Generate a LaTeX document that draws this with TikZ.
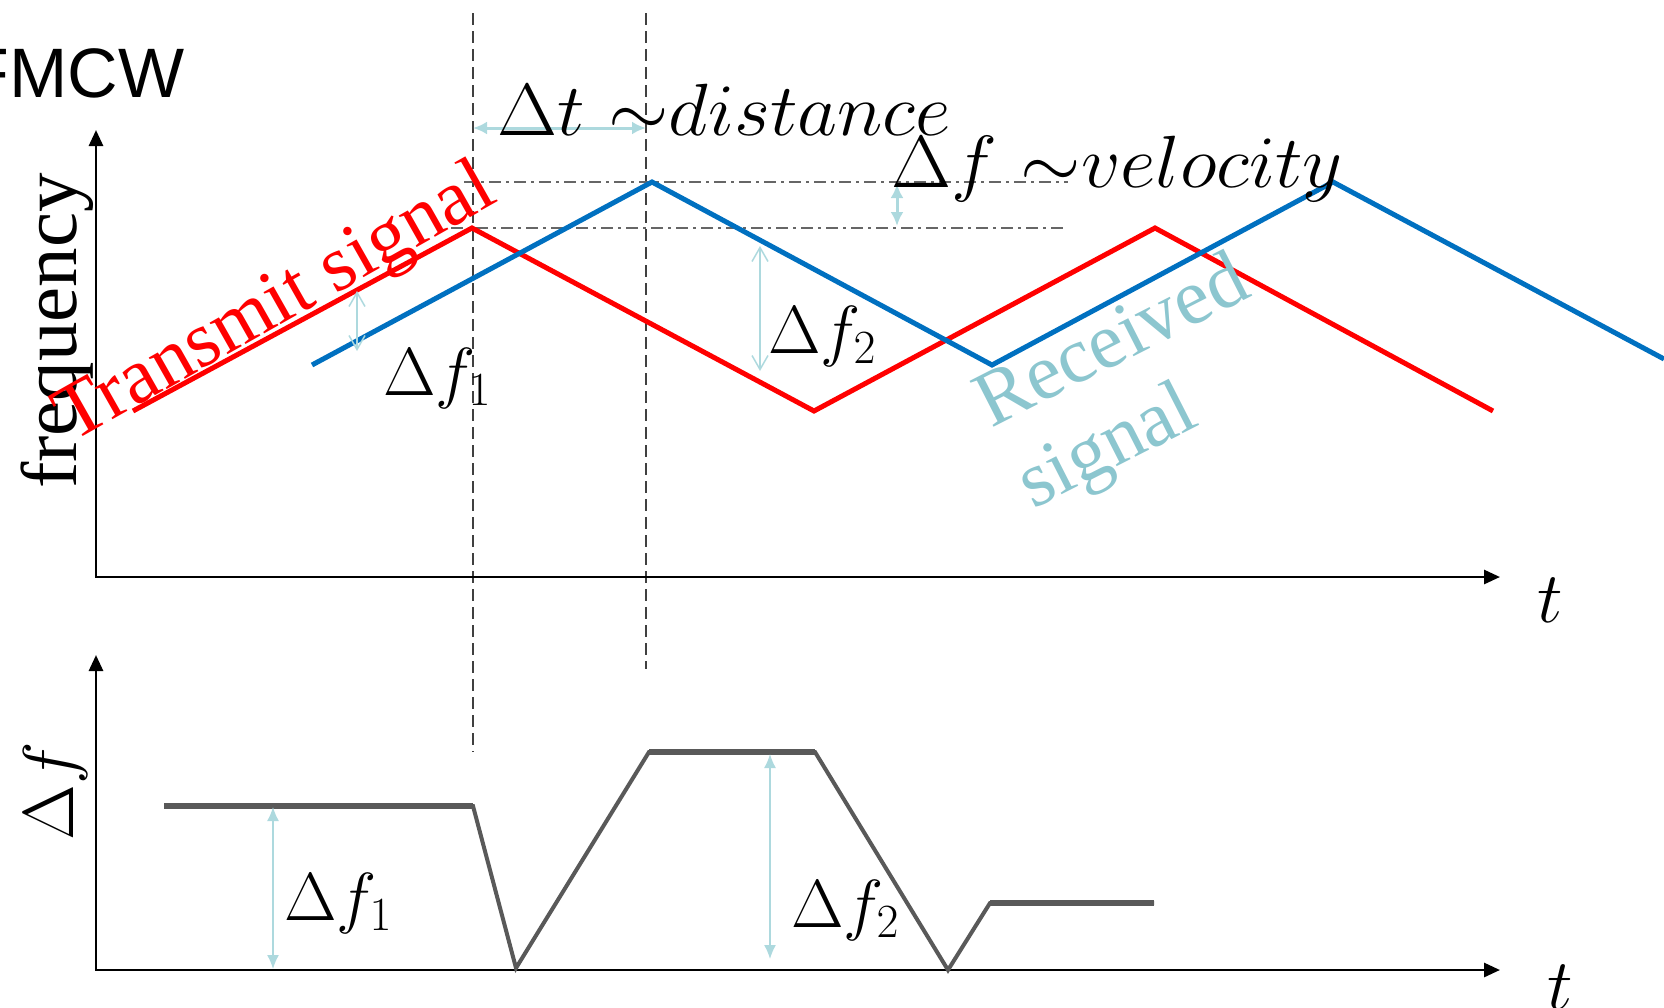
\RequirePackage{fix-cm}
\documentclass[tikz,border=0pt]{standalone}
\usepackage{fontspec}
\newfontfamily\seriffont{Liberation Serif}
\newfontfamily\arialfont{Liberation Sans}
\usetikzlibrary{arrows.meta}
\definecolor{tred}{HTML}{FF0000}
\definecolor{rblue}{HTML}{0070C0}
\definecolor{rteal}{HTML}{8CC6CF}
\definecolor{lblue}{HTML}{ADD9DE}
\definecolor{dgray}{HTML}{595959}
\definecolor{vgray}{HTML}{404040}
\definecolor{hgray}{HTML}{666666}
\begin{document}
\begin{tikzpicture}[x=0.5pt,y=-0.5pt,
  axisline/.style={line width=1.4pt,black,{Triangle[length=8pt,width=7pt]}-{Triangle[length=8pt,width=7pt]}},
  txline/.style={line width=2.5pt,tred},
  rxline/.style={line width=2.5pt,rblue},
  diffline/.style={line width=2pt,dgray},
  diffflat/.style={line width=2.6pt,dgray},
  vguide/.style={line width=0.8pt,vgray,dash pattern=on 6pt off 3pt},
  hguide/.style={line width=0.8pt,hgray,dash pattern=on 6pt off 2.5pt on 1.5pt off 2.5pt},
  thickarr/.style={line width=1.5pt,lblue,{Latex[length=7pt,width=6.5pt]}-{Latex[length=7pt,width=6.5pt]}},
  openarr/.style={line width=0.75pt,lblue,{Straight Barb[length=7pt,width=8pt]}-{Straight Barb[length=7pt,width=8pt]}},
  thinarr/.style={line width=0.75pt,lblue,{Latex[length=7pt,width=6pt]}-{Latex[length=7pt,width=6pt]}},
  mlab/.style={inner sep=0pt,font=\fontsize{36}{40}\selectfont},
  biglab/.style={inner sep=0pt,font=\fontsize{37}{41}\selectfont},
  flab/.style={inner sep=0pt,font=\fontsize{34}{38}\selectfont},
  serlab/.style={inner sep=0pt,font=\seriffont\fontsize{39.5}{42}\selectfont}]
\useasboundingbox (0,0) rectangle (1664,1007);

% ---------- coordinates ----------
\coordinate (ytop1) at (96,130);
\coordinate (o1) at (96,577);
\coordinate (xend1) at (1500,577);
\coordinate (ytop2) at (96,655);
\coordinate (o2) at (96,970);
\coordinate (xend2) at (1500,970);

\coordinate (r0) at (133,411);
\coordinate (r1) at (472,228);
\coordinate (r2) at (814,411);
\coordinate (r3) at (1155,228);
\coordinate (r4) at (1493,411);

\coordinate (b0) at (312,365);
\coordinate (b1) at (652,182);
\coordinate (b2) at (992,365);
\coordinate (b3) at (1333,182);
\coordinate (b4) at (1664,359);

\coordinate (g0) at (164,806);
\coordinate (g1) at (473,806);
\coordinate (g2) at (516,968);
\coordinate (g3) at (649,752);
\coordinate (g4) at (815,752);
\coordinate (g5) at (948,970);
\coordinate (g6) at (990,903);
\coordinate (g7) at (1154,903);

\coordinate (v1t) at (473,13);
\coordinate (v1b) at (473,752);
\coordinate (v2t) at (646,13);
\coordinate (v2b) at (646,669);

\coordinate (h1a) at (464,182);
\coordinate (h1b) at (1068,182);
\coordinate (h2a) at (451,228);
\coordinate (h2b) at (1066,228);

% ---------- guides ----------
\draw[vguide] (v1t) -- (v1b);
\draw[vguide] (v2t) -- (v2b);
\draw[hguide] (h1a) -- (h1b);
\draw[hguide] (h2a) -- (h2b);

% ---------- axes ----------
\draw[axisline] (ytop1) -- (o1) -- (xend1);
\draw[axisline] (ytop2) -- (o2) -- (xend2);

% ---------- signals ----------
\draw[txline] (r0) -- (r1) -- (r2) -- (r3) -- (r4);
\draw[rxline] (b0) -- (b1) -- (b2) -- (b3) -- (b4);

\draw[diffline] (g0) -- (g1) -- (g2) -- (g3) -- (g4) -- (g5) -- (g6) -- (g7);
\draw[diffflat] (g0) -- (g1);
\draw[diffflat] (g3) -- (g4);
\draw[diffflat] (g6) -- (g7);

% ---------- measurement arrows ----------
\coordinate (dta) at (473,128);
\coordinate (dtb) at (646,128);
\draw[thickarr] (dta) -- (dtb);
\coordinate (dva) at (897,184);
\coordinate (dvb) at (897,226);
\draw[thickarr] (dva) -- (dvb);
\coordinate (f1a) at (357,291);
\coordinate (f1b) at (357,351);
\draw[openarr] (f1a) -- (f1b);
\coordinate (f2a) at (760,246);
\coordinate (f2b) at (760,371);
\draw[openarr] (f2a) -- (f2b);
\coordinate (bf1a) at (273,807);
\coordinate (bf1b) at (273,969);
\draw[thinarr] (bf1a) -- (bf1b);
\coordinate (bf2a) at (770,754);
\coordinate (bf2b) at (770,959);
\draw[thinarr] (bf2a) -- (bf2b);

% ---------- labels ----------
\node[inner sep=0pt,anchor=base west,font=\arialfont\fontsize{35}{40}\selectfont] (title) at (-34,97) {FMCW};
\node[serlab,rotate=90,anchor=base] (ylab1) at (76,331) {frequency};
\node[mlab,rotate=90,anchor=base] (ylab2) at (73,791) {$\Delta f$};
\node[mlab,anchor=base] (tlab1) at (1550,622) {$t$};
\node[mlab,anchor=base] (tlab2) at (1560,1009) {$t$};

\node[biglab,anchor=base west] (dist) at (497,135) {\scalebox{1.05}[1]{$\Delta t\ {\sim}distance$}};
\node[biglab,anchor=base west] (velo) at (891,187) {\scalebox{1.05}[1]{$\Delta f\ {\sim}velocity$}};

\node[flab,anchor=base west] (df1) at (383,395) {$\Delta f_1$};
\node[flab,anchor=base west] (df2) at (768,353) {$\Delta f_2$};
\node[flab,anchor=base west] (bdf1) at (284,920) {$\Delta f_1$};
\node[flab,anchor=base west] (bdf2) at (791,927) {$\Delta f_2$};

\node[serlab,text=tred,rotate=29.5,anchor=base west] (txlab) at (72,443) {Transmit signal};
\node[serlab,text=rteal,rotate=27,anchor=base west] (rxlab1) at (991,429) {Received};
\node[serlab,text=rteal,rotate=27,anchor=base west] (rxlab2) at (1033,510) {signal};
\end{tikzpicture}
\end{document}
